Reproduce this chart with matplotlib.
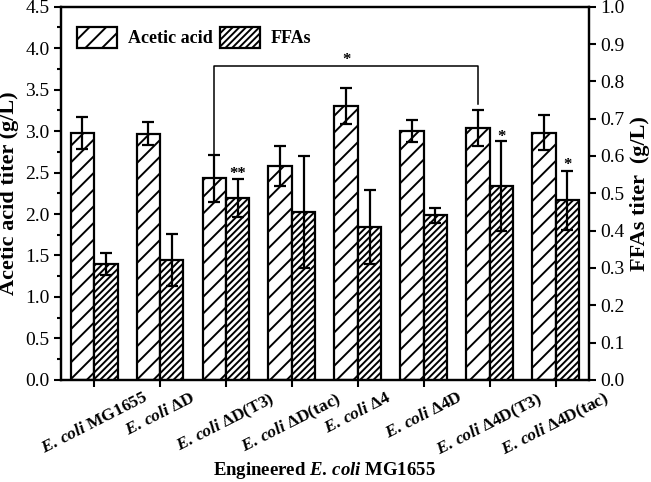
import numpy as np
import matplotlib
matplotlib.use('Agg')
import matplotlib.pyplot as plt
import matplotlib.transforms as mtransforms
from matplotlib.ticker import MultipleLocator

plt.rcParams['font.family'] = 'Liberation Serif'
plt.rcParams['mathtext.fontset'] = 'custom'
plt.rcParams['mathtext.rm'] = 'Liberation Serif:bold'
plt.rcParams['mathtext.it'] = 'Liberation Serif:italic:bold'
plt.rcParams['hatch.linewidth'] = 1.4

ec = r'$\mathit{E.\,coli}$'
strains = [ec + ' MG1655', ec + ' ΔD', ec + ' ΔD(T3)', ec + ' ΔD(tac)',
           ec + ' Δ4', ec + ' Δ4D', ec + ' Δ4D(T3)', ec + ' Δ4D(tac)']
acetic = [2.98, 2.97, 2.43, 2.58, 3.30, 3.00, 3.04, 2.98]
acetic_err = [0.19, 0.14, 0.28, 0.24, 0.22, 0.13, 0.22, 0.21]
ffas = [0.311, 0.322, 0.487, 0.451, 0.410, 0.441, 0.520, 0.481]
ffas_err = [0.030, 0.070, 0.050, 0.150, 0.100, 0.020, 0.120, 0.080]

x = np.arange(len(strains))
w = 0.355

fig = plt.figure(figsize=(6.51, 4.82), dpi=100)
ax = fig.add_axes([0.094, 0.212, 0.810, 0.774])
ax2 = ax.twinx()

ax.bar(x - w / 2, acetic, w, yerr=acetic_err, color='white', edgecolor='black',
       linewidth=1.6, hatch='//', label='Acetic acid',
       error_kw=dict(ecolor='black', elinewidth=1.6, capsize=4, capthick=1.6))
ax2.bar(x + w / 2, ffas, w, yerr=ffas_err, color='white', edgecolor='black',
        linewidth=1.6, hatch='/////', label='FFAs',
        error_kw=dict(ecolor='black', elinewidth=1.6, capsize=4, capthick=1.6))

# significance marks
ax.plot([2 - w / 2, 2 - w / 2, 6 - w / 2, 6 - w / 2], [2.72, 3.79, 3.79, 3.33],
        color='black', lw=1.1)
ax.text(4 - w / 2, 3.76, '*', ha='center', va='bottom', fontsize=12, fontweight='bold')
ax2.text(2 + w / 2, 0.53, '**', ha='center', va='bottom', fontsize=12, fontweight='bold')
ax2.text(6 + w / 2, 0.63, '*', ha='center', va='bottom', fontsize=12, fontweight='bold')
ax2.text(7 + w / 2, 0.555, '*', ha='center', va='bottom', fontsize=12, fontweight='bold')

ax.set_xlim(-0.5, 7.5)
ax.set_ylim(0, 4.5)
ax2.set_ylim(0, 1.0)
ax.yaxis.set_major_locator(MultipleLocator(0.5))
ax.yaxis.set_minor_locator(MultipleLocator(0.25))
ax2.yaxis.set_major_locator(MultipleLocator(0.1))
ax.yaxis.set_major_formatter(plt.FormatStrFormatter('%.1f'))
ax2.yaxis.set_major_formatter(plt.FormatStrFormatter('%.1f'))

ax.set_xticks(x)
ax.set_xticklabels(strains, rotation=27, ha='center', fontsize=12.5, fontweight='bold')
shift = mtransforms.ScaledTranslation(-10 / 100, 0, fig.dpi_scale_trans)
for lab in ax.get_xticklabels():
    lab.set_transform(lab.get_transform() + shift)
ax.tick_params(axis='y', which='major', direction='out', length=5, width=1.5, labelsize=14)
ax.tick_params(axis='y', which='minor', direction='out', length=3, width=1.5)
ax.tick_params(axis='x', direction='out', length=5, width=1.5, pad=2)
ax2.tick_params(axis='y', direction='out', length=5, width=1.5, labelsize=14)
for a in (ax, ax2):
    for s in a.spines.values():
        s.set_linewidth(1.6)

ax.set_ylabel('Acetic acid titer (g/L)', fontsize=16, fontweight='bold', labelpad=4)
ax2.set_ylabel('FFAs titer  (g/L)', fontsize=16, fontweight='bold', labelpad=4)
ax.set_xlabel(r'Engineered $\mathit{E.\,coli}$ MG1655', fontsize=13.5, fontweight='bold')
ax.xaxis.set_label_coords(0.5, -0.243)
ax.xaxis.label.set_va('center')

h1, l1 = ax.get_legend_handles_labels()
h2, l2 = ax2.get_legend_handles_labels()
leg = ax.legend(h1 + h2, l1 + l2, loc='upper left', ncol=2, frameon=False,
                prop={'weight': 'bold', 'size': 13}, handlelength=2.2, handleheight=1.4,
                columnspacing=0.4, handletextpad=0.6, bbox_to_anchor=(0.0, 0.99))

fig.savefig('out.png', dpi=100)
